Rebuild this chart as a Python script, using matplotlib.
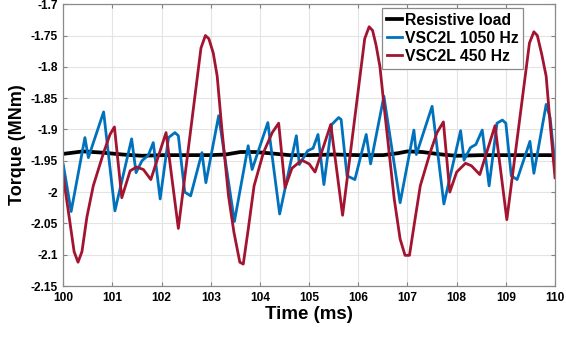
import matplotlib
matplotlib.use("Agg")
import matplotlib.pyplot as plt

plt.rcParams['font.family'] = ['Liberation Sans', 'DejaVu Sans']
plt.rcParams['font.weight'] = 'bold'

# resistive load torque (MNm) vs time (ms)
t_res = [100.0, 100.4, 100.8, 101.2, 101.6, 102.0, 102.5, 103.0, 103.3, 103.6,
         103.9, 104.2, 104.6, 105.0, 105.5, 106.0, 106.5, 106.8, 107.0, 107.3,
         107.7, 108.0, 108.5, 109.0, 109.5, 110.0]
tq_res = [-1.939, -1.935, -1.937, -1.940, -1.942, -1.941, -1.941, -1.941, -1.940, -1.936,
          -1.936, -1.938, -1.941, -1.941, -1.940, -1.941, -1.941, -1.938, -1.935, -1.936,
          -1.940, -1.942, -1.941, -1.941, -1.941, -1.941]

# VSC2L, 1050 Hz switching
t_1050 = [100.0, 100.16, 100.44, 100.51, 100.82, 101.05, 101.39, 101.48, 101.60, 101.73,
          101.83, 101.97, 102.14, 102.27, 102.34, 102.47, 102.59, 102.82, 102.90, 103.16,
          103.48, 103.76, 103.84, 104.16, 104.40, 104.74, 104.80, 104.97, 105.08, 105.18,
          105.30, 105.46, 105.60, 105.65, 105.77, 105.93, 106.16, 106.25, 106.52, 106.85,
          107.13, 107.18, 107.50, 107.74, 108.08, 108.15, 108.28, 108.39, 108.52, 108.66,
          108.82, 108.93, 109.00, 109.11, 109.23, 109.49, 109.57, 109.82, 109.90, 110.0]
tq_1050 = [-1.956, -2.031, -1.913, -1.945, -1.872, -2.030, -1.915, -1.969, -1.950, -1.941,
           -1.921, -2.011, -1.913, -1.905, -1.910, -2.000, -2.006, -1.937, -1.985, -1.878,
           -2.047, -1.926, -1.964, -1.889, -2.035, -1.910, -1.956, -1.934, -1.930, -1.908,
           -1.988, -1.892, -1.881, -1.884, -1.974, -1.980, -1.908, -1.955, -1.847, -2.017,
           -1.901, -1.940, -1.863, -2.019, -1.902, -1.949, -1.929, -1.924, -1.901, -1.990,
           -1.890, -1.885, -1.890, -1.974, -1.980, -1.919, -1.970, -1.860, -1.881, -1.956]

# VSC2L, 450 Hz switching
t_450 = [100.0, 100.12, 100.22, 100.30, 100.38, 100.48, 100.61, 100.82, 100.95, 101.04,
         101.19, 101.36, 101.49, 101.63, 101.78, 102.09, 102.34, 102.80, 102.89, 102.96,
         103.05, 103.13, 103.22, 103.36, 103.47, 103.59, 103.66, 103.76, 103.88, 104.07,
         104.25, 104.38, 104.51, 104.65, 104.85, 105.00, 105.12, 105.44, 105.68, 106.13,
         106.22, 106.29, 106.36, 106.44, 106.52, 106.73, 106.85, 106.95, 107.04, 107.14,
         107.26, 107.46, 107.60, 107.73, 107.86, 108.00, 108.18, 108.30, 108.47, 108.78,
         109.02, 109.48, 109.57, 109.64, 109.73, 109.82, 109.90, 110.0]
tq_450 = [-1.975, -2.040, -2.095, -2.112, -2.095, -2.040, -1.990, -1.937, -1.908, -1.896,
          -2.009, -1.966, -1.960, -1.964, -1.980, -1.905, -2.058, -1.770, -1.750, -1.755,
          -1.778, -1.815, -1.895, -2.006, -2.064, -2.112, -2.115, -2.060, -1.990, -1.937,
          -1.905, -1.890, -1.993, -1.962, -1.949, -1.955, -1.968, -1.892, -2.037, -1.755,
          -1.736, -1.742, -1.765, -1.800, -1.860, -2.011, -2.075, -2.101, -2.101, -2.050,
          -1.990, -1.937, -1.905, -1.888, -2.000, -1.968, -1.954, -1.958, -1.972, -1.894,
          -2.044, -1.762, -1.744, -1.750, -1.780, -1.815, -1.890, -1.977]

y_ticks = [-2.15, -2.1, -2.05, -2.0, -1.95, -1.9, -1.85, -1.8, -1.75, -1.7]
y_labels = ['-2.15', '-2.1', '-2.05', '-2', '-1.95', '-1.9', '-1.85', '-1.8', '-1.75', '-1.7']
x_ticks = list(range(100, 111))

fig = plt.figure(figsize=(5.66, 3.38), dpi=100)
ax = fig.add_axes([0.1118, 0.1538, 0.8688, 0.8337])

ax.plot(t_res, tq_res, color='black', lw=2.7, label='Resistive load')
ax.plot(t_1050, tq_1050, color='#0072BD', lw=2.0, label='VSC2L 1050 Hz')
ax.plot(t_450, tq_450, color='#A2142F', lw=2.0, label='VSC2L 450 Hz')

ax.set_xlim(100, 110)
ax.set_ylim(-2.15, -1.7)
ax.set_xticks(x_ticks)
ax.set_yticks(y_ticks)
ax.set_yticklabels(y_labels)
ax.tick_params(direction='in', length=3, width=0.8, color='#808080',
               labelsize=8.6, top=True, right=True, pad=4)
ax.grid(True, color='#e4e4e4', lw=0.8)
ax.set_axisbelow(True)
for s in ax.spines.values():
    s.set_color('#8a8a8a')
    s.set_linewidth(0.9)

ax.set_xlabel('Time (ms)', fontsize=13.5, fontweight='bold', labelpad=2)
ax.set_ylabel('Torque (MNm)', fontsize=13, fontweight='bold', labelpad=3)

leg = ax.legend(loc='upper left', bbox_to_anchor=(0.648, 0.987), borderaxespad=0,
                fontsize=11.3, handlelength=1.0, handletextpad=0.15,
                labelspacing=0.2, borderpad=0.3, fancybox=False, framealpha=1)
leg.get_frame().set_edgecolor('#8a8a8a')
leg.get_frame().set_linewidth(0.9)

fig.savefig('out.png', dpi=100)
